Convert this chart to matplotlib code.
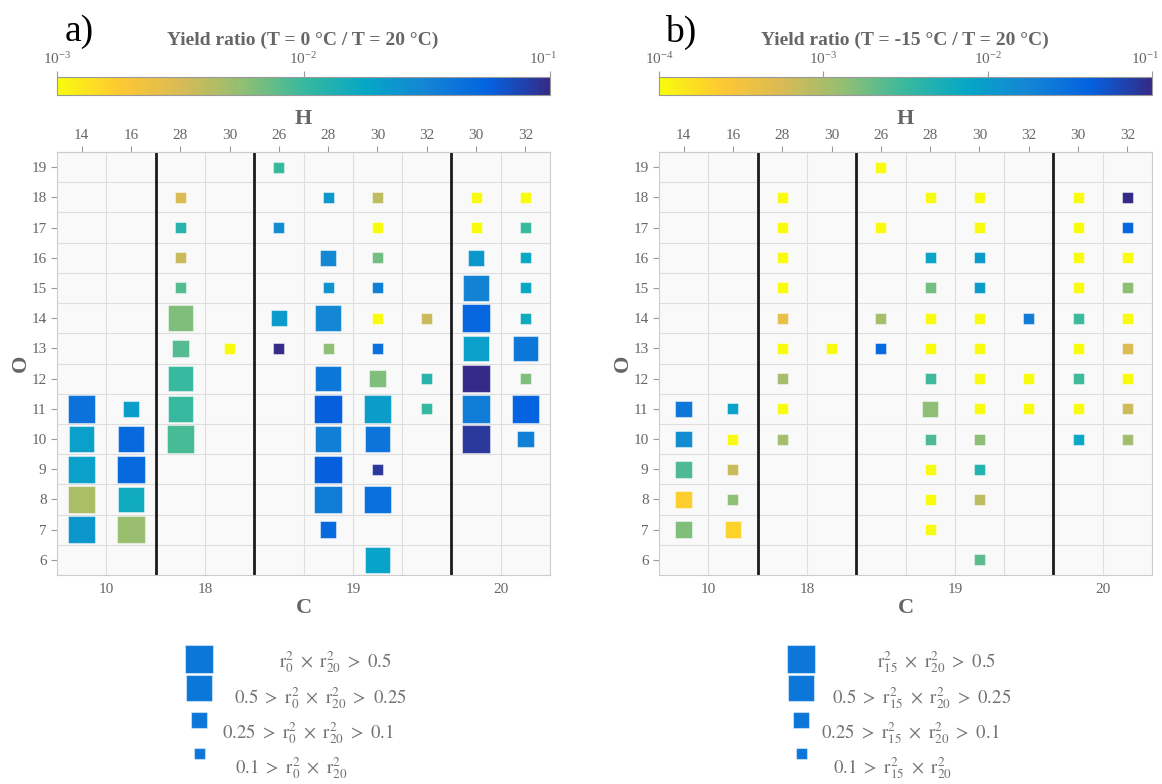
import matplotlib
matplotlib.use("Agg")
import matplotlib.pyplot as plt
import numpy as np
from matplotlib.cm import ScalarMappable
from matplotlib.colors import LinearSegmentedColormap, LogNorm
from matplotlib.transforms import ScaledTranslation

plt.rcParams["font.family"] = ["Liberation Serif", "DejaVu Serif"]
plt.rcParams["mathtext.fontset"] = "stix"

# grid columns: carbon groups and hydrogen numbers
c_groups = ["10", "18", "19", "20"]
group_size = [2, 2, 4, 2]
h_labels = ["14", "16", "28", "30", "26", "28", "30", "32", "30", "32"]
o_ticks = list(range(6, 20))

# positions of the species (same for both panels), listed column by column
sp_col = [0, 0, 0, 0, 0,
          1, 1, 1, 1, 1,
          2, 2, 2, 2, 2, 2, 2, 2, 2,
          3,
          4, 4, 4, 4,
          5, 5, 5, 5, 5, 5, 5, 5, 5, 5, 5,
          6, 6, 6, 6, 6, 6, 6, 6, 6, 6, 6, 6,
          7, 7, 7,
          8, 8, 8, 8, 8, 8, 8, 8, 8,
          9, 9, 9, 9, 9, 9, 9, 9, 9]
sp_o = [11, 10, 9, 8, 7,
        11, 10, 9, 8, 7,
        18, 17, 16, 15, 14, 13, 12, 11, 10,
        13,
        19, 17, 14, 13,
        18, 16, 15, 14, 13, 12, 11, 10, 9, 8, 7,
        18, 17, 16, 15, 14, 13, 12, 11, 10, 9, 8, 6,
        14, 12, 11,
        18, 17, 16, 15, 14, 13, 12, 11, 10,
        18, 17, 16, 15, 14, 13, 12, 11, 10]

# a) log10 yield ratio T=0 / T=20 and fit class (1..4)
a_log = [-1.36, -1.70, -1.70, -2.34, -1.64,
         -1.68, -1.30, -1.30, -1.80, -2.28,
         -2.52, -1.92, -2.44, -2.08, -2.20, -2.08, -2.00, -2.00, -2.04,
         -3.00,
         -2.00, -1.56, -1.66, -1.00,
         -1.64, -1.52, -1.60, -1.52, -2.24, -1.40, -1.24, -1.46, -1.24, -1.44, -1.30,
         -2.40, -3.00, -2.16, -1.46, -3.00, -1.34, -2.20, -1.68, -1.38, -1.06, -1.34, -1.72,
         -2.44, -1.92, -1.98,
         -3.00, -3.00, -1.64, -1.48, -1.28, -1.70, -1.00, -1.44, -1.06,
         -3.00, -2.00, -1.76, -1.76, -1.80, -1.40, -2.20, -1.26, -1.46]
a_cls = [4, 3, 4, 4, 4,
         2, 3, 4, 3, 4,
         1, 1, 1, 1, 3, 2, 3, 3, 4,
         1,
         1, 1, 2, 1,
         1, 2, 1, 3, 1, 3, 4, 3, 4, 4, 2,
         1, 1, 1, 1, 1, 1, 2, 4, 3, 1, 4, 3,
         1, 1, 1,
         1, 1, 2, 3, 4, 3, 4, 4, 4,
         1, 1, 1, 1, 1, 3, 1, 4, 2]

# b) log10 yield ratio T=-15 / T=20 and fit class
b_log = [-1.60, -1.84, -2.59, -3.67, -2.80,
         -2.05, -4.00, -3.16, -2.86, -3.70,
         -4.00, -4.00, -4.00, -4.00, -3.40, -4.00, -2.98, -4.00, -2.98,
         -4.00,
         -4.00, -4.00, -2.98, -1.45,
         -4.00, -2.08, -2.74, -4.00, -4.00, -2.53, -2.86, -2.59, -4.00, -4.00, -4.00,
         -4.00, -4.00, -1.99, -1.99, -4.00, -4.00, -4.00, -4.00, -2.86, -2.35, -3.10, -2.65,
         -1.66, -4.00, -4.00,
         -4.00, -4.00, -4.00, -4.00, -2.53, -4.00, -2.53, -4.00, -2.14,
         -1.00, -1.42, -4.00, -2.86, -4.00, -3.28, -4.00, -3.19, -2.95]
b_cls = [2, 2, 2, 2, 2,
         1, 1, 1, 1, 2,
         1, 1, 1, 1, 1, 1, 1, 1, 1,
         1,
         1, 1, 1, 1,
         1, 1, 1, 1, 1, 1, 2, 1, 1, 1, 1,
         1, 1, 1, 1, 1, 1, 1, 1, 1, 1, 1, 1,
         1, 1, 1,
         1, 1, 1, 1, 1, 1, 1, 1, 1,
         1, 1, 1, 1, 1, 1, 1, 1, 1]

legend_tpl = [
    r"$\mathrm{r}_{%s}^{2}\ \times\ \mathrm{r}_{20}^{2}\ >\ 0.5$",
    r"$0.5\ >\ \mathrm{r}_{%s}^{2}\ \times\ \mathrm{r}_{20}^{2}\ >\ 0.25$",
    r"$0.25\ >\ \mathrm{r}_{%s}^{2}\ \times\ \mathrm{r}_{20}^{2}\ >\ 0.1$",
    r"$0.1\ >\ \mathrm{r}_{%s}^{2}\ \times\ \mathrm{r}_{20}^{2}$",
]

# parula (dark -> yellow), reversed so small ratios are yellow
parula = [(0.2081, 0.1663, 0.5292), (0.0117, 0.3875, 0.8820),
          (0.0793, 0.5200, 0.8312), (0.0228, 0.6535, 0.7768),
          (0.2178, 0.7250, 0.6193), (0.5709, 0.7485, 0.4494),
          (0.8507, 0.7299, 0.3360), (0.9955, 0.7861, 0.1967),
          (0.9763, 0.9831, 0.0538)]
cmap = LinearSegmentedColormap.from_list("parula_r", parula[::-1], N=256)

GREY = "0.4"
CLASS_PX = {1: 11, 2: 16.5, 3: 25.5, 4: 27.5}
W, H = 1162, 784


def area(c):
    return (CLASS_PX[c] * 0.72) ** 2


def fbox(x0, y0, x1, y1):
    return [x0 / W, 1 - y1 / H, (x1 - x0) / W, (y1 - y0) / H]


fig = plt.figure(figsize=(W / 100, H / 100), dpi=100)
lax = fig.add_axes([0, 0, 1, 1])
lax.set_xlim(0, W)
lax.set_ylim(H, 0)
lax.axis("off")


def draw_panel(x0, log_vals, classes, lo_exp, title, tag, sub):
    ax = fig.add_axes(fbox(x0, 152, x0 + 493, 575))
    ax.set_facecolor("0.975")
    ncol = len(h_labels)
    ax.set_xlim(-0.5, ncol - 0.5)
    ax.set_ylim(5.5, 19.5)

    edges = np.cumsum(group_size)
    starts = edges - np.array(group_size)
    for x in np.arange(0.5, ncol - 1, 1):
        ax.axvline(x, color="0.87", lw=0.8, zorder=0)
    for y in np.arange(6.5, 19.5, 1):
        ax.axhline(y, color="0.87", lw=0.8, zorder=0)
    for x in edges[:-1] - 0.5:
        ax.axvline(x, color="0.1", lw=2, zorder=1)

    norm = LogNorm(10.0 ** lo_exp, 1e-1)
    vals = 10.0 ** np.array(log_vals)
    ax.scatter(sp_col, sp_o, c=vals, cmap=cmap, norm=norm, marker="s",
               s=[area(c) for c in classes], edgecolors=(1, 1, 1, 0.45),
               linewidths=0.8, zorder=3)

    ax.set_xticks(starts + (np.array(group_size) - 1) / 2, labels=c_groups)
    ax.set_yticks(o_ticks)
    ax.tick_params(axis="x", length=0, pad=6, labelsize=11, labelcolor=GREY)
    ax.tick_params(axis="y", length=4, color="0.6", labelsize=11, labelcolor=GREY)
    for sp in ax.spines.values():
        sp.set_color("0.8")
    ax.set_xlabel("C", fontsize=16, fontweight="bold", color=GREY, labelpad=1)
    ax.set_ylabel("O", fontsize=16, fontweight="bold", color=GREY, labelpad=0)

    top = ax.secondary_xaxis("top")
    top.set_xticks(range(ncol), labels=h_labels)
    top.tick_params(length=4, color="0.6", labelsize=11, labelcolor=GREY)
    top.spines["top"].set_color("0.8")
    top.set_xlabel("H", fontsize=16, fontweight="bold", color=GREY, labelpad=3)

    cax = fig.add_axes(fbox(x0, 77, x0 + 493, 95))
    cb = fig.colorbar(ScalarMappable(norm=norm, cmap=cmap), cax=cax,
                      orientation="horizontal")
    cb.set_ticks([10.0 ** e for e in range(lo_exp, 0)])
    cax.xaxis.set_ticks_position("top")
    cax.minorticks_off()
    cax.tick_params(length=4, color="0.6", labelsize=11, labelcolor=GREY,
                    pad=3)
    cb.outline.set_edgecolor("0.6")
    # keep the last decade label inside the figure
    last = cax.get_xticklabels()[-1]
    last.set_transform(last.get_transform()
                       + ScaledTranslation(-5 / 72, 0, fig.dpi_scale_trans))

    fig.text((x0 + 246) / W, 1 - 40 / H, title, ha="center", va="center",
             fontsize=14, fontweight="bold", color=GREY)
    fig.text((x0 + 22) / W, 1 - 32 / H, tag, ha="center", va="center",
             fontsize=27, color="black")

    # legend of square sizes
    sq_y = [659, 688, 720, 753]
    txt_x = [278, 263, 251, 234]
    txt_y = [662, 698, 733, 768]
    for i, c in enumerate([4, 3, 2, 1]):
        lax.scatter(x0 + 142, sq_y[i], marker="s", s=area(c),
                    color=cmap(0.8), edgecolors=(1, 1, 1, 0.45), linewidths=0.8)
        lax.text(x0 + txt_x[i], txt_y[i], legend_tpl[i] % sub, ha="center",
                 va="center", fontsize=13.5, color="0.45")


draw_panel(57, a_log, a_cls, -3, "Yield ratio (T = 0 °C / T = 20 °C)", "a)", "0")
draw_panel(659, b_log, b_cls, -4, "Yield ratio (T = -15 °C / T = 20 °C)", "b)", "15")

fig.savefig("out.png", dpi=100)
